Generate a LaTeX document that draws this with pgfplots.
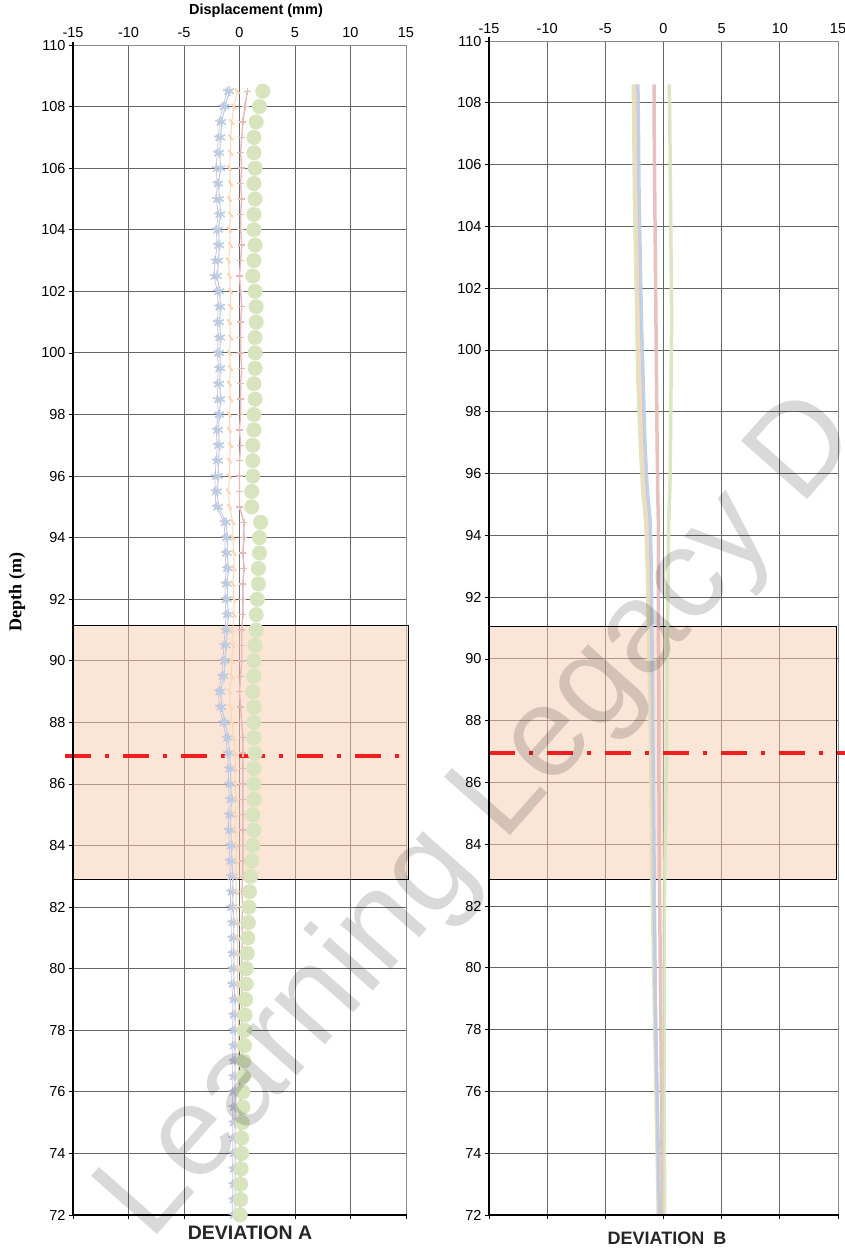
\documentclass[border=0pt]{standalone}
\usepackage{pgfplots}
\pgfplotsset{compat=1.18}
\usepackage{pgfplotstable}
\usepackage{fontspec}
\setmainfont{Liberation Sans}
\newfontfamily\serifbf{Liberation Serif}

\definecolor{cBlue}{HTML}{B9CDE5}
\definecolor{cLav}{HTML}{CCC0DA}
\definecolor{cOrange}{HTML}{FCD5B5}
\definecolor{cPink}{HTML}{E6B9B8}
\definecolor{cGreen}{HTML}{D7E4BD}
\definecolor{cPeach}{HTML}{F8CBAD}
\definecolor{cRed}{HTML}{F01E1E}

\pgfplotstableread{
d a1 a2 a3 a4 a5
108.5 -0.9 -1.1 -0.2 0.7 2.1
108.0 -1.3 -1.5 -0.5 0.5 1.8
107.5 -1.6 -1.8 -0.7 0.3 1.5
107.0 -1.7 -1.9 -0.8 0.2 1.3
106.5 -1.8 -2.0 -0.8 0.1 1.3
106.0 -1.7 -2.1 -0.9 0.2 1.4
105.5 -1.9 -2.0 -0.8 0.1 1.3
105.0 -1.8 -2.1 -0.9 0.2 1.4
104.5 -1.7 -1.9 -0.8 0.1 1.3
104.0 -1.9 -2.1 -0.9 0.1 1.3
103.5 -1.8 -2.0 -0.8 0.2 1.4
103.0 -1.9 -2.2 -1.0 0.1 1.3
102.5 -2.0 -2.3 -0.9 0.0 1.2
102.0 -1.8 -2.0 -0.8 0.1 1.4
101.5 -1.7 -1.9 -0.8 0.2 1.5
101.0 -1.8 -2.0 -0.9 0.1 1.5
100.5 -1.7 -1.9 -0.8 0.1 1.4
100.0 -1.8 -2.0 -0.9 0.1 1.4
99.5 -1.7 -1.9 -0.8 0.2 1.4
99.0 -1.8 -2.0 -0.9 0.1 1.3
98.5 -1.7 -2.0 -0.8 0.1 1.4
98.0 -1.8 -1.9 -0.9 0.1 1.3
97.5 -1.9 -2.1 -0.9 0.0 1.3
97.0 -1.8 -2.0 -0.8 0.1 1.2
96.5 -1.9 -2.1 -0.9 0.0 1.2
96.0 -1.9 -2.2 -0.9 0.0 1.2
95.5 -2.0 -2.2 -1.0 0.0 1.1
95.0 -1.9 -2.1 -0.9 0.0 1.1
94.5 -1.2 -1.4 -0.6 0.4 1.9
94.0 -1.1 -1.3 -0.6 0.4 1.8
93.5 -1.1 -1.3 -0.5 0.3 1.8
93.0 -1.0 -1.2 -0.5 0.4 1.7
92.5 -1.1 -1.3 -0.6 0.3 1.7
92.0 -1.1 -1.3 -0.5 0.3 1.6
91.5 -1.0 -1.2 -0.5 0.3 1.5
91.0 -1.1 -1.3 -0.6 0.2 1.5
90.5 -1.2 -1.4 -0.6 0.2 1.4
90.0 -1.3 -1.5 -0.7 0.2 1.3
89.5 -1.4 -1.6 -0.7 0.1 1.3
89.0 -1.7 -1.9 -0.9 0.0 1.2
88.5 -1.6 -1.8 -0.8 0.1 1.3
88.0 -1.3 -1.5 -0.7 0.2 1.3
87.5 -1.0 -1.2 -0.5 0.3 1.3
87.0 -0.9 -1.1 -0.4 0.3 1.4
86.5 -0.8 -1.0 -0.4 0.3 1.3
86.0 -0.8 -1.0 -0.4 0.3 1.3
85.5 -0.7 -0.9 -0.3 0.3 1.3
85.0 -0.8 -1.0 -0.4 0.3 1.2
84.5 -0.8 -1.0 -0.4 0.3 1.3
84.0 -0.7 -0.9 -0.3 0.3 1.2
83.5 -0.7 -0.9 -0.3 0.3 1.1
83.0 -0.6 -0.8 -0.3 0.3 1.0
82.5 -0.6 -0.8 -0.3 0.2 0.9
82.0 -0.6 -0.8 -0.3 0.3 0.85
81.5 -0.5 -0.7 -0.2 0.2 0.8
81.0 -0.5 -0.7 -0.2 0.3 0.75
80.5 -0.5 -0.7 -0.2 0.2 0.7
80.0 -0.5 -0.7 -0.2 0.2 0.6
79.5 -0.5 -0.7 -0.2 0.2 0.6
79.0 -0.4 -0.6 -0.1 0.2 0.55
78.5 -0.4 -0.6 -0.1 0.2 0.5
78.0 -0.4 -0.6 -0.1 0.2 0.45
77.5 -0.4 -0.6 -0.1 0.2 0.45
77.0 -0.4 -0.6 -0.1 0.2 0.4
76.5 -0.4 -0.6 -0.1 0.1 0.35
76.0 -0.4 -0.6 0.0 0.1 0.3
75.5 -0.4 -0.6 0.0 0.1 0.3
75.0 -0.4 -0.6 0.0 0.1 0.25
74.5 -0.4 -0.6 0.0 0.1 0.2
74.0 -0.4 -0.6 0.0 0.1 0.2
73.5 -0.4 -0.6 0.0 0.1 0.15
73.0 -0.4 -0.6 0.0 0.1 0.1
72.5 -0.4 -0.6 0.0 0.1 0.1
72.0 -0.4 -0.6 0.0 0.1 0.05
}\tA

\pgfplotstableread{
d b1 b2 b3 b4 b5
108.6 -2.6 -2.4 -2.2 -0.8 0.5
107 -2.55 -2.35 -2.15 -0.8 0.55
105 -2.5 -2.3 -2.1 -0.75 0.6
103 -2.4 -2.2 -2.0 -0.7 0.65
101 -2.3 -2.1 -1.9 -0.65 0.7
99 -2.2 -2.0 -1.75 -0.6 0.65
97 -2.0 -1.8 -1.6 -0.55 0.6
95.5 -1.8 -1.6 -1.4 -0.5 0.55
94.5 -1.55 -1.35 -1.15 -0.45 0.45
93 -1.4 -1.25 -1.05 -0.45 0.4
91 -1.3 -1.15 -1.0 -0.45 0.35
89 -1.2 -1.1 -0.95 -0.4 0.3
87 -1.1 -1.0 -0.9 -0.4 0.25
85 -1.05 -0.95 -0.85 -0.38 0.2
83 -1.0 -0.9 -0.8 -0.35 0.1
81 -0.9 -0.8 -0.75 -0.3 0.05
79 -0.8 -0.75 -0.7 -0.25 0.05
77 -0.7 -0.65 -0.6 -0.2 0.05
75 -0.6 -0.55 -0.5 -0.15 0.05
73 -0.5 -0.45 -0.4 -0.1 0.1
72 -0.45 -0.4 -0.35 -0.1 0.1
}\tB

\pgfplotsset{
  dev/.style={
    scale only axis, clip=false,
    xmin=-15, xmax=15, ymin=72, ymax=110,
    xtick={-15,-10,-5,0,5,10,15},
    xticklabels={-15,-10,-5,0,5,10,15},
    ytick={72,74,...,110},
    xtick pos=bottom, xticklabel pos=top,
    ytick pos=left,
    tick align=outside, major tick length=4pt,
    every tick/.style={black, line width=0.8pt},
    grid=major, major grid style={black!60, line width=0.9pt},
    axis line style={black!45, line width=0.9pt},
    tick label style={font=\fontsize{14.5}{14.5}\selectfont},
    /pgf/number format/assume math mode=true,
  }
}

\begin{document}
\begin{tikzpicture}[x=1pt,y=1pt]
\useasboundingbox (0,0) rectangle (845,-1250);

% ---------- Deviation A ----------
\begin{axis}[dev, at={(73pt,-1215pt)}, anchor=south west, width=333pt, height=1170pt]
  \fill[cPeach, fill opacity=0.5] (axis cs:-15,82.9) rectangle (axis cs:15.25,91.15);
  \draw[black, line width=1.2pt] (axis cs:-15,82.9) rectangle (axis cs:15.25,91.15);
  \addplot[cLav, line width=0.8pt, mark=star, mark size=4.5pt, mark options={line width=1.4pt}] table[x=a2,y=d]{\tA};
  \addplot[cBlue, line width=1pt, mark=asterisk, mark size=5pt, mark options={line width=1.6pt}] table[x=a1,y=d]{\tA};
  \addplot[cOrange, line width=1pt, mark=|, mark size=3.5pt, mark options={rotate=40, line width=2pt}] table[x=a3,y=d]{\tA};
  \addplot[cPink, line width=1.4pt, mark=+, mark size=3.5pt, mark options={line width=1.4pt}] table[x=a4,y=d]{\tA};
  \addplot[cGreen, only marks, mark=*, mark size=7.3pt, mark options={fill=cGreen, draw=cGreen}] table[x=a5,y=d]{\tA};
  \draw[cRed, line width=4pt, dash pattern=on 26pt off 14pt on 4pt off 14pt] (axis cs:-15.7,86.9) -- (axis cs:15.3,86.9);
  \draw[black, line width=2.4pt] (rel axis cs:0,1.003) -- (rel axis cs:0,0) -- (rel axis cs:1.003,0);
\end{axis}

% ---------- Deviation B ----------
\begin{axis}[dev, at={(489pt,-1215pt)}, anchor=south west, width=349pt, height=1174pt]
  \fill[cPeach, fill opacity=0.5] (axis cs:-15,82.87) rectangle (axis cs:14.9,91.06);
  \draw[black, line width=1.2pt] (axis cs:-15,82.87) rectangle (axis cs:14.9,91.06);
  \addplot[cGreen, line width=3.5pt, opacity=0.9] table[x=b1,y=d]{\tB};
  \addplot[cOrange, line width=3.5pt, opacity=0.9] table[x=b2,y=d]{\tB};
  \addplot[cBlue, line width=3.5pt, opacity=0.9] table[x=b3,y=d]{\tB};
  \addplot[cPink, line width=3.5pt, opacity=0.9] table[x=b4,y=d]{\tB};
  \addplot[cGreen, line width=3.5pt, opacity=0.9] table[x=b5,y=d]{\tB};
  \draw[cRed, line width=4pt, dash pattern=on 26pt off 14pt on 4pt off 14pt] (axis cs:-15,86.95) -- (axis cs:15.65,86.95);
  \draw[black, line width=2.4pt] (rel axis cs:0,1.003) -- (rel axis cs:0,0) -- (rel axis cs:1.003,0);
\end{axis}

% ---------- Texts ----------
\node[font=\bfseries\fontsize{14.5}{14.5}\selectfont] at (256,-11) {Displacement (mm)};
\node[font=\serifbf\bfseries\fontsize{18}{18}\selectfont, rotate=90] at (17,-592) {Depth (m)};
\node[font=\bfseries\fontsize{19.5}{19.5}\selectfont, text=black!85] at (250,-1233) {DEVIATION A};
\node[font=\bfseries\fontsize{18}{18}\selectfont, text=black!85] at (667,-1238) {DEVIATION\hspace{0.5em}B};

% ---------- Watermark ----------
\node[rotate=48.5, anchor=base west, inner sep=0pt, text=black, text opacity=0.15,
      font=\fontsize{128}{128}\selectfont] at (150,-1243) {Learning Legacy D};
\end{tikzpicture}
\end{document}
